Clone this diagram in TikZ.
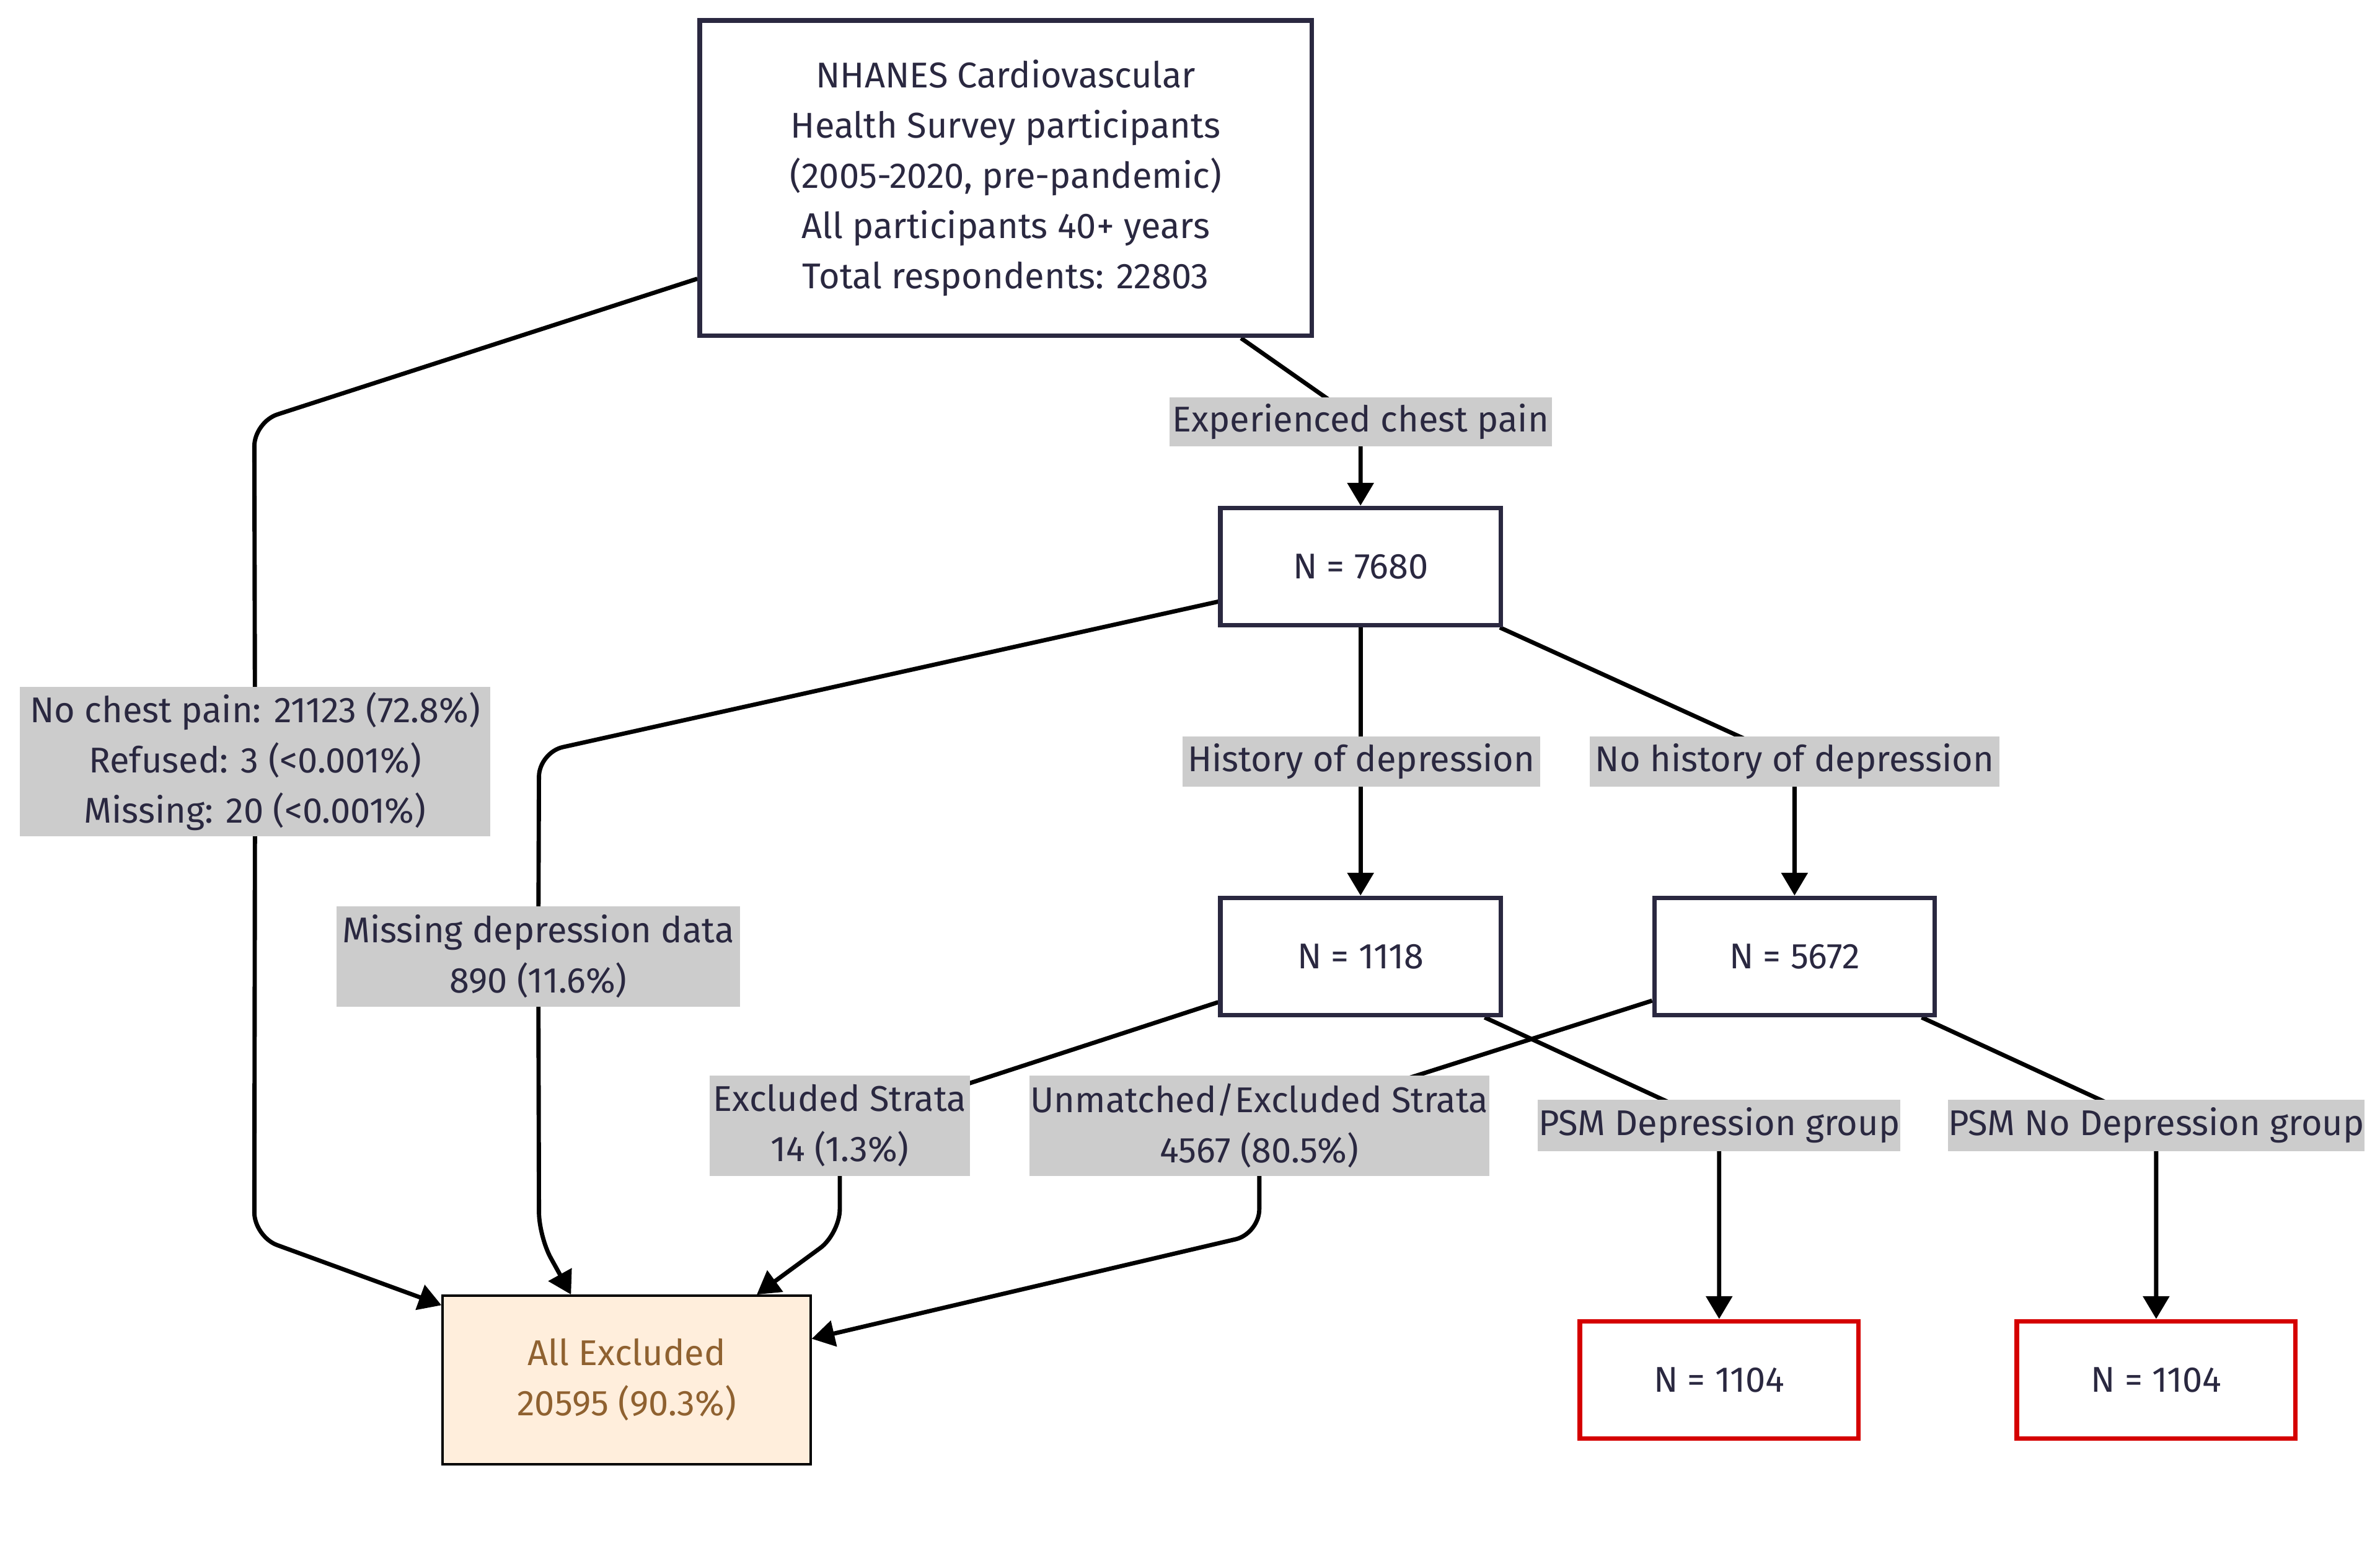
\documentclass[tikz,border=0pt]{standalone}
\usepackage{fontspec}
\setmainfont{Fira Sans}
\usetikzlibrary{arrows.meta,calc}
\pgfdeclarelayer{bottom}
\pgfdeclarelayer{background}
\pgfsetlayers{bottom,background,main}
\definecolor{txt}{HTML}{2A2840}
\definecolor{bord}{HTML}{2A2840}
\definecolor{lbl}{HTML}{CCCCCC}
\definecolor{redb}{HTML}{D50000}
\definecolor{exfill}{HTML}{FFEEDC}
\definecolor{extxt}{HTML}{8F6130}
\tikzset{
  base/.style={font=\fontsize{23.5}{33}\selectfont, text=txt, align=center, inner sep=0pt},
  box/.style={base, draw=bord, line width=3pt, fill=white},
  redbox/.style={base, draw=redb, line width=3pt, fill=white},
  exbox/.style={base, draw=black, line width=1.6pt, fill=exfill, text=extxt},
  lab/.style={base, fill=lbl},
  edge/.style={line width=2.8pt, draw=black},
  arr/.style={edge, -{Triangle[length=15pt,width=17pt]}},
}
\begin{document}
\begin{tikzpicture}[x=1pt,y=-1pt]
\useasboundingbox (0,0) rectangle (1563,1013);
\begin{pgfonlayer}{bottom}
\fill[white] (0,0) rectangle (1563,1013);
\end{pgfonlayer}
% main boxes
\node[box, minimum width=402, minimum height=207] (top) at (660.5,117)
  {NHANES Cardiovascular\\Health Survey participants\\(2005-2020, pre-pandemic)\\All participants 40+ years\\Total respondents: 22803};
\node[box, minimum width=184, minimum height=77] (n7680) at (893.5,372) {N = 7680};
\node[box, minimum width=184, minimum height=77] (n1118) at (893.5,628) {N = 1118};
\node[box, minimum width=184, minimum height=77] (n5672) at (1178.5,628) {N = 5672};
\node[redbox, minimum width=183, minimum height=77] (p1) at (1129,906) {N = 1104};
\node[redbox, minimum width=183, minimum height=77] (p2) at (1416,906) {N = 1104};
\node[exbox, minimum width=241.5, minimum height=110.5] (allx) at (411.5,906) {All Excluded\\20595 (90.3\%)};
% labels
\node[lab, minimum width=251, minimum height=32] (exp) at (893.5,277) {Experienced chest pain};
\node[lab, minimum width=309, minimum height=98] (nochest) at (167.5,500) {No chest pain: 21123 (72.8\%)\\Refused: 3 (<0.001\%)\\Missing: 20 (<0.001\%)};
\node[lab, minimum width=265, minimum height=66] (missing) at (353.5,628) {Missing depression data\\890 (11.6\%)};
\node[lab, minimum width=235, minimum height=33] (hist) at (894,500) {History of depression};
\node[lab, minimum width=269, minimum height=33] (nohist) at (1178.5,500) {No history of depression};
\node[lab, minimum width=171, minimum height=66] (exstr) at (551.5,739) {Excluded Strata\\14 (1.3\%)};
\node[lab, minimum width=302, minimum height=66] (unm) at (827,739) {Unmatched/Excluded Strata\\4567 (80.5\%)};
\node[lab, minimum width=238, minimum height=34] (psm1) at (1129,739) {PSM Depression group};
\node[lab, minimum width=272, minimum height=34] (psm2) at (1416,739) {PSM No Depression group};
% bend points
\coordinate (c1) at (167,277);
\coordinate (c2) at (167,812);
\coordinate (c3) at (354,494);
\coordinate (c4) at (354,812);
\coordinate (c5) at (551.5,810);
\coordinate (c6) at (827,810);
\begin{pgfonlayer}{background}
\draw[arr] ([xshift=154.5]top.south) -- (exp.center) -- (n7680.north);
\draw[arr, rounded corners=16pt] ([yshift=-66]top.west) -- (c1) -- (nochest.center) -- (c2) -- ([yshift=-7]allx.north west);
\draw[arr, rounded corners=16pt] ([yshift=-23]n7680.west) -- (c3) -- (missing.center) -- (c4) -- ([xshift=-36.5]allx.north);
\draw[arr] (n7680.south) -- (n1118.north);
\draw[arr] ([xshift=-2]n7680.south east) -- (nohist.center) -- (n5672.north);
\draw[arr, rounded corners=16pt] ([yshift=-30]n1118.west) -- (exstr.center) -- (c5) -- ([xshift=85.5]allx.north);
\draw[arr, rounded corners=16pt] ([yshift=-29]n5672.west) -- (unm.center) -- (c6) -- ([yshift=27]allx.east);
\draw[arr] ([xshift=-12]n1118.south east) -- (psm1.center) -- (p1.north);
\draw[arr] ([xshift=-10]n5672.south east) -- (psm2.center) -- (p2.north);
\end{pgfonlayer}
\end{tikzpicture}
\end{document}
